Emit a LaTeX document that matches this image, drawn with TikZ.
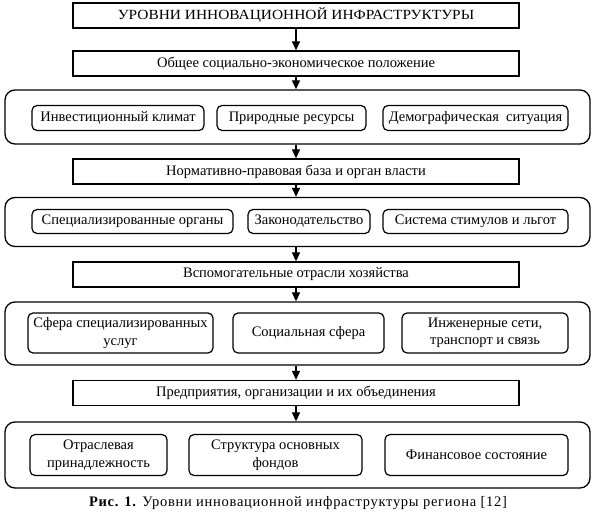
\documentclass[tikz,border=0pt]{standalone}
\usepackage{fontspec}
\setmainfont{Liberation Serif}
\newfontfamily\widefont[FakeStretch=1.1]{Liberation Serif}
\newfontfamily\capfont[LetterSpace=5]{Liberation Serif}
\usetikzlibrary{arrows.meta}
\begin{document}
\begin{tikzpicture}[x=1pt,y=-1pt,
  lvl/.style={draw, line width=1.3pt, minimum width=446pt, minimum height=25pt, inner sep=0pt, font=\fontsize{14.5}{16}\selectfont},
  grp/.style={draw, line width=1.3pt, rounded corners=10pt, minimum width=585pt, inner sep=0pt},
  item/.style={draw, line width=1.2pt, rounded corners=5pt, inner sep=0pt, align=center, font=\fontsize{14.5}{17.5}\selectfont},
  arr/.style={line width=1.3pt, -{Triangle[length=9pt,width=8pt]}}]
\useasboundingbox (0,0) rectangle (595,521);

\node[lvl, minimum height=25pt, font=\widefont\fontsize{14}{16}\selectfont] (l1) at (296,15.5) {УРОВНИ ИННОВАЦИОННОЙ ИНФРАСТРУКТУРЫ};
\node[lvl] (l2) at (296,63.5) {Общее социально-экономическое положение};
\node[grp, minimum height=54pt] (g1) at (297.5,117) {};
\node[item, minimum width=172pt, minimum height=25pt] (a1) at (118,118) {Инвестиционный климат};
\node[item, minimum width=149pt, minimum height=25pt] (a2) at (291.5,118) {Природные ресурсы};
\node[item, minimum width=185pt, minimum height=25pt] (a3) at (475.5,118) {Демографическая\ \ ситуация};

\node[lvl] (l3) at (296,171.5) {Нормативно-правовая база и орган власти};
\node[grp, minimum height=49pt] (g2) at (297.5,222) {};
\node[item, minimum width=201pt, minimum height=24pt] (b1) at (132.5,221.5) {Специализированные органы};
\node[item, minimum width=122pt, minimum height=24pt] (b2) at (309,221.5) {Законодательство};
\node[item, minimum width=185pt, minimum height=24pt] (b3) at (475.5,221.5) {Система стимулов и льгот};

\node[lvl] (l4) at (296,274.5) {Вспомогательные отрасли хозяйства};
\node[grp, minimum height=63pt] (g3) at (297.5,333.5) {};
\node[item, minimum width=185pt, minimum height=40pt] (c1) at (120.5,333) {Сфера специализированных\\услуг};
\node[item, minimum width=151pt, minimum height=40pt] (c2) at (308.5,333) {Социальная сфера};
\node[item, minimum width=166pt, minimum height=40pt] (c3) at (485,333) {Инженерные сети,\\транспорт и связь};

\node[lvl] (l5) at (296,393) {Предприятия, организации и их объединения};
\node[grp, minimum height=66pt] (g4) at (297.5,455) {};
\node[item, minimum width=137pt, minimum height=41pt] (d1) at (98.5,455) {Отраслевая\\принадлежность};
\node[item, minimum width=173pt, minimum height=41pt] (d2) at (275.5,455) {Структура основных\\фондов};
\node[item, minimum width=183pt, minimum height=41pt] (d3) at (476.5,455) {Финансовое состояние};

\node[font=\capfont\fontsize{14.5}{16}\selectfont] (cap) at (298,503) {\textbf{Рис. 1.} Уровни инновационной инфраструктуры региона [12]};

\draw[arr] (l1) -- (l2);
\draw[arr] (l2) -- (l2 |- g1.north);
\draw[arr] (l2 |- g1.south) -- (l3);
\draw[arr] (l3) -- (l3 |- g2.north);
\draw[arr] (l3 |- g2.south) -- (l4);
\draw[arr] (l4) -- (l4 |- g3.north);
\draw[arr] (l4 |- g3.south) -- (l5);
\draw[arr] (l5) -- (l5 |- g4.north);
\end{tikzpicture}
\end{document}
